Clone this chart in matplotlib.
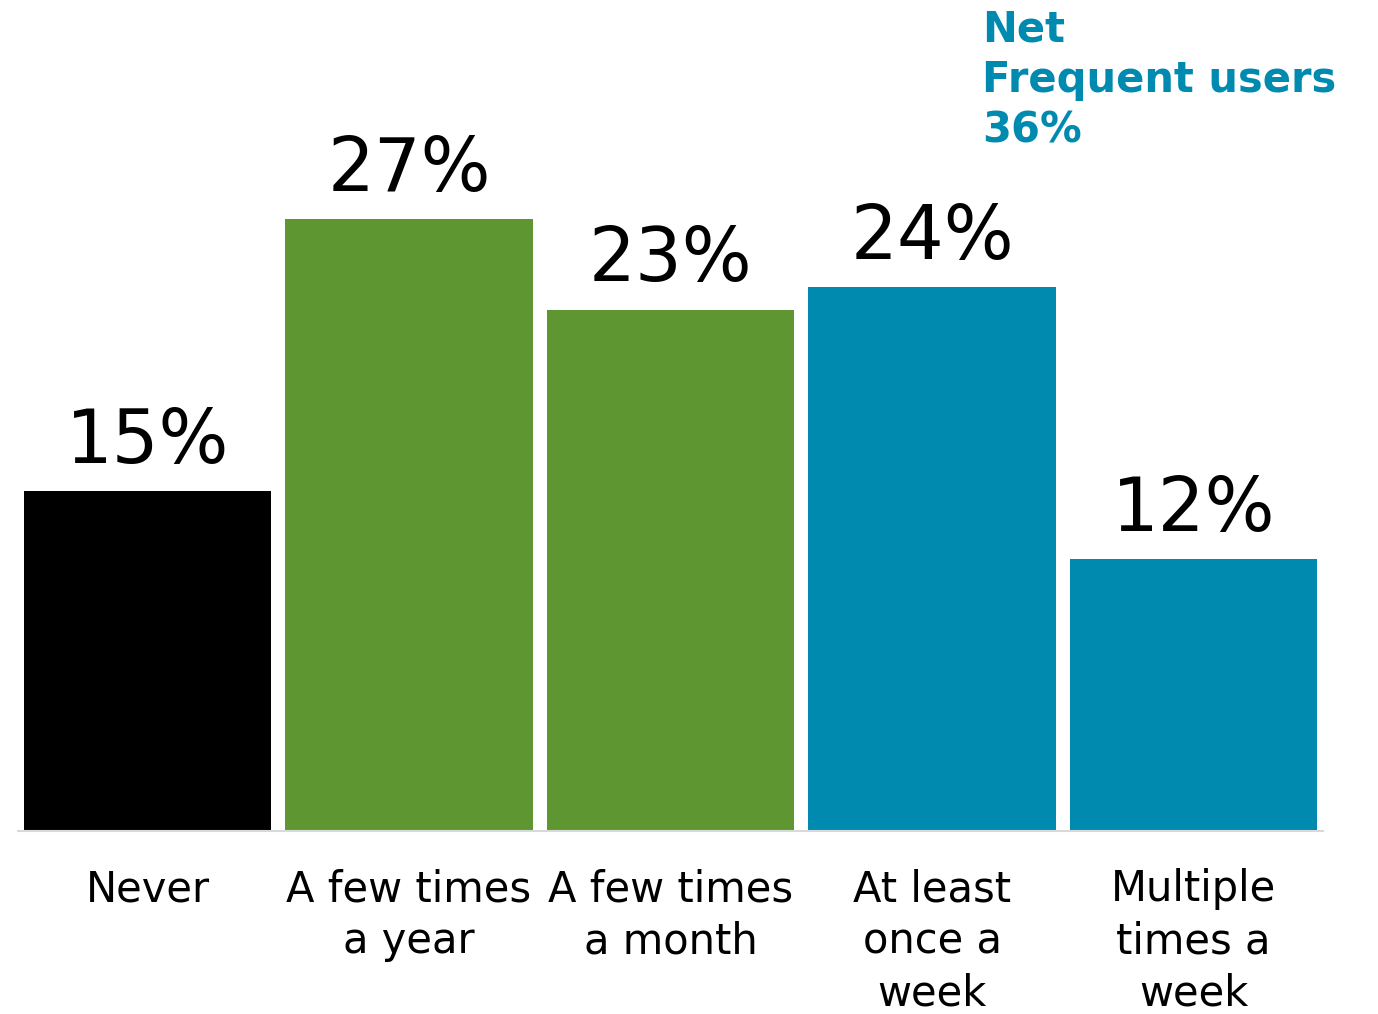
import matplotlib
matplotlib.use("Agg")
from matplotlib import pyplot as plt

CATEGORIES = ["Never", "A few times\na year", "A few times\na month", "At least\nonce a\nweek", "Multiple\ntimes a\nweek"]
VALUES = [15, 27, 23, 24, 12]
COLORS = ["#000000", "#5E9732", "#5E9732", "#008AB0", "#008AB0"]
NET_LABEL = "Net\nFrequent users\n36%"

plt.rcParams["font.family"] = ["DejaVu Sans"]

fig = plt.figure(figsize=(13.78, 10.14), dpi=100)
ax = fig.add_axes([18 / 1378, 183 / 1014, 1305 / 1378, 680 / 1014])

x = list(range(len(VALUES)))
bars = ax.bar(x, VALUES, width=0.945, color=COLORS)
for b, v in zip(bars, VALUES):
    ax.annotate(f"{v}%", (b.get_x() + b.get_width() / 2, v), xytext=(0, 9),
                textcoords="offset points", ha="center", va="bottom", fontsize=53)

ax.set_xlim(-0.495, 4.495)
ax.set_ylim(0, 30)
ax.set_xticks(x)
ax.set_xticklabels(CATEGORIES, fontsize=30, linespacing=1.3)
ax.tick_params(axis="x", length=0, pad=27)
ax.set_yticks([])
for s in ["top", "right", "left"]:
    ax.spines[s].set_visible(False)
ax.spines["bottom"].set_color("#D9D9D9")
ax.spines["bottom"].set_linewidth(1.5)

fig.text(982 / 1378, 1 - 9 / 1014, NET_LABEL, color="#008AB0", fontsize=30,
         fontweight="bold", ha="left", va="top", linespacing=1.25)

fig.savefig("out.png", dpi=100)
